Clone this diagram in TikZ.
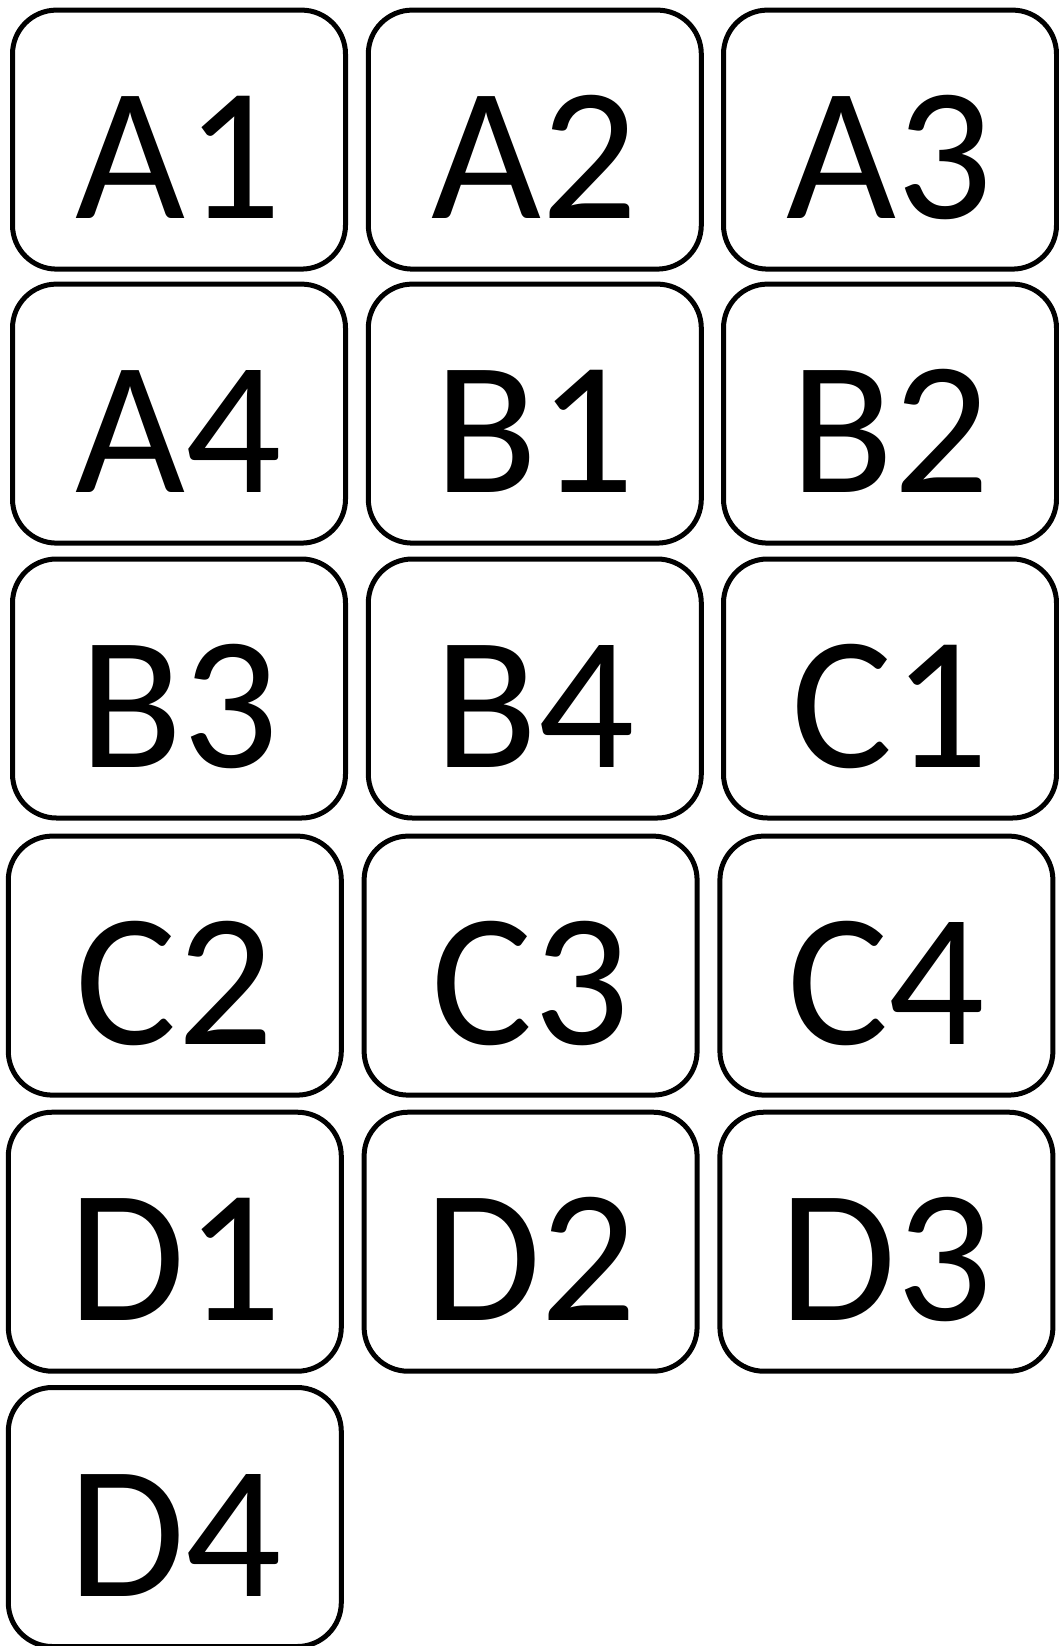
\documentclass[tikz,border=0pt]{standalone}
\usepackage{fontspec}
\setmainfont{Carlito}
\begin{document}
\begin{tikzpicture}[x=1pt,y=-1pt,
  cell/.style={draw, line width=5pt, rounded corners=44pt, minimum width=333pt, minimum height=259pt,
    inner sep=0pt, font=\fontsize{190}{190}\selectfont, text height=158pt, text depth=0pt, align=center}]
\useasboundingbox (0,0) rectangle (1058,1646);
\node[cell] (a1) at (179,139.6) {A1};
\node[cell] (a2) at (534.8,139.6) {A2};
\node[cell] (a3) at (890,139.6) {A3};
\node[cell] (a4) at (179,413.6) {A4};
\node[cell] (b1) at (534.8,413.6) {B1};
\node[cell] (b2) at (890,413.6) {B2};
\node[cell] (b3) at (179,688.5) {B3};
\node[cell] (b4) at (534.8,688.5) {B4};
\node[cell] (c1) at (890,688.5) {C1};
\node[cell] (c2) at (174.8,965.6) {C2};
\node[cell] (c3) at (530.6,965.6) {C3};
\node[cell] (c4) at (886.4,965.6) {C4};
\node[cell] (d1) at (174.8,1241.7) {D1};
\node[cell] (d2) at (530.6,1241.7) {D2};
\node[cell] (d3) at (886.4,1241.7) {D3};
\node[cell] (d4) at (174.8,1517) {D4};
\end{tikzpicture}
\end{document}
